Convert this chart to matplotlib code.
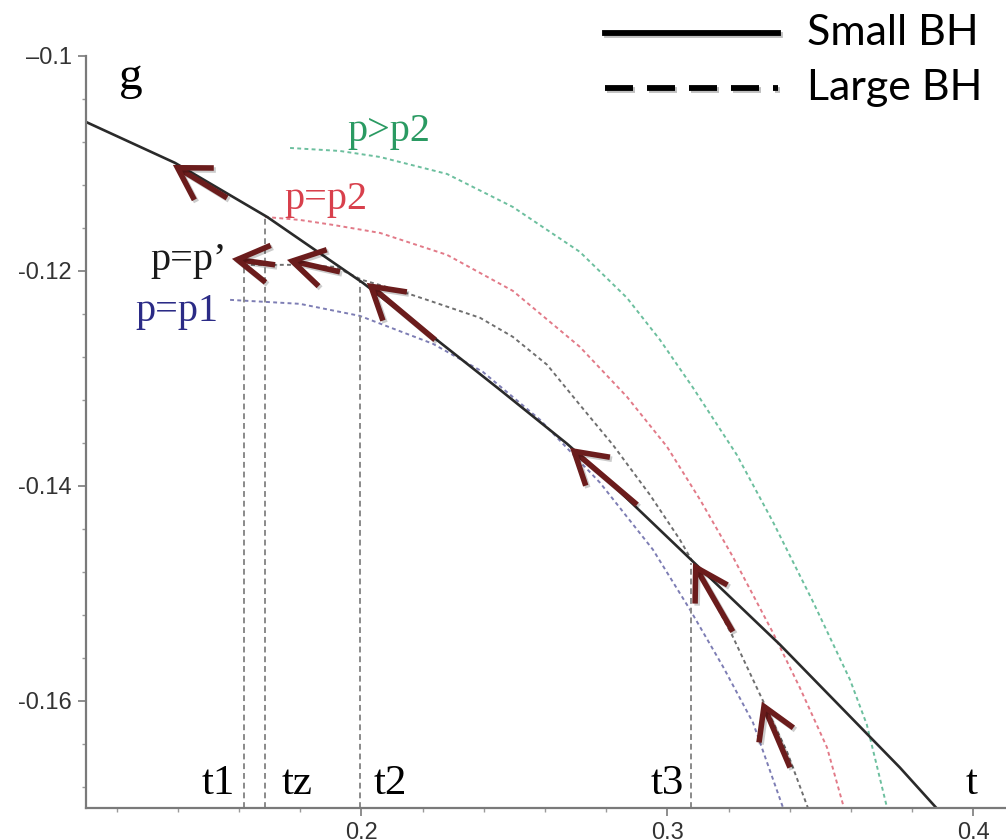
import matplotlib
matplotlib.use("Agg")
import matplotlib.pyplot as plt
import matplotlib.patheffects as pe
from matplotlib.lines import Line2D
from matplotlib.ticker import MultipleLocator

# =========================
# data
# =========================
small_t = [0.1100, 0.1391, 0.1692, 0.2005, 0.2234, 0.2453, 0.2672, 0.2780, 0.3074, 0.3368, 0.3760, 0.3878]
small_g = [-0.10614, -0.10995, -0.11498, -0.12112, -0.12614, -0.13107, -0.13609, -0.13879, -0.14679, -0.15479, -0.16623, -0.16995]

green_t = [0.1767, 0.1930, 0.2061, 0.2280, 0.2495, 0.2714, 0.2868, 0.2976, 0.3084, 0.3227, 0.3345, 0.3476, 0.3597, 0.3652, 0.3718]
green_g = [-0.10856, -0.10884, -0.10940, -0.11098, -0.11405, -0.11823, -0.12251, -0.12642, -0.13088, -0.13712, -0.14335, -0.15079, -0.15805, -0.16223, -0.16995]

red_t = [0.1685, 0.1799, 0.1907, 0.2061, 0.2280, 0.2495, 0.2714, 0.2868, 0.2999, 0.3107, 0.3214, 0.3345, 0.3433, 0.3522, 0.3577]
red_g = [-0.11498, -0.11526, -0.11572, -0.11647, -0.11851, -0.12186, -0.12707, -0.13172, -0.13637, -0.14130, -0.14660, -0.15367, -0.15879, -0.16437, -0.16995]

gray_t = [0.1616, 0.1799, 0.1914, 0.2002, 0.2116, 0.2224, 0.2388, 0.2495, 0.2607, 0.2714, 0.2822, 0.2943, 0.3041, 0.3107, 0.3214, 0.3303, 0.3391, 0.3459]
gray_g = [-0.11944, -0.11944, -0.11963, -0.12084, -0.12177, -0.12279, -0.12437, -0.12614, -0.12874, -0.13247, -0.13619, -0.14084, -0.14502, -0.14828, -0.15405, -0.15944, -0.16474, -0.16995]

blue_t = [0.1571, 0.1799, 0.1995, 0.2234, 0.2397, 0.2584, 0.2780, 0.2953, 0.3074, 0.3182, 0.3280, 0.3378]
blue_g = [-0.12270, -0.12307, -0.12419, -0.12679, -0.12940, -0.13386, -0.13972, -0.14595, -0.15153, -0.15684, -0.16205, -0.16995]

# vertical markers t1, tz, t2, t3
mark_names = ["t1", "tz", "t2", "t3"]
mark_t = [0.1618, 0.1685, 0.1997, 0.3076]
mark_top = [-0.11944, -0.11498, -0.12090, -0.14716]
mark_label_t = [0.1479, 0.1741, 0.2041, 0.2946]

# arrows (tail -> head)
arrow_tail_t = [0.1561, 0.1718, 0.1930, 0.2241, 0.2901, 0.3214, 0.3401]
arrow_tail_g = [-0.11321, -0.11944, -0.12009, -0.12642, -0.14177, -0.15358, -0.16623]
arrow_head_t = [0.1384, 0.1577, 0.1757, 0.2018, 0.2682, 0.3084, 0.3309]
arrow_head_g = [-0.11014, -0.11888, -0.11898, -0.12112, -0.13647, -0.14716, -0.16009]

y_ticks = [-0.1, -0.12, -0.14, -0.16]
y_tick_labels = ["\u20130.1", "-0.12", "-0.14", "-0.16"]
x_ticks = [0.2, 0.3, 0.4]
x_tick_labels = ["0.2", "0.3", "0.4"]

# =========================
# figure
# =========================
W, H = 1006, 840
fig = plt.figure(figsize=(W / 100, H / 100), dpi=100)
ax = fig.add_axes([86 / W, 32 / H, 1 - 86 / W, (808 - 56) / H])
ax.set_xlim(0.11, 0.4107)
ax.set_ylim(-0.17, -0.1)

SERIF = "Liberation Serif"
DOT = (0, (2.0, 1.7))

ax.plot(green_t, green_g, color="#6cbf9e", lw=1.4, linestyle=DOT)
ax.plot(red_t, red_g, color="#e27a88", lw=1.4, linestyle=DOT)
ax.plot(gray_t, gray_g, color="#6f6f6f", lw=1.4, linestyle=DOT)
ax.plot(blue_t, blue_g, color="#7d7db4", lw=1.4, linestyle=DOT)

for t, top in zip(mark_t, mark_top):
    ax.plot([t, t], [-0.17, top], color="#8a8a8a", lw=1.4, linestyle=(0, (3, 2)))

ax.plot(small_t, small_g, color="#2a2a2a", lw=1.9, solid_joinstyle="round")

for tt, tg, ht, hg in zip(arrow_tail_t, arrow_tail_g, arrow_head_t, arrow_head_g):
    ax.annotate(
        "", xy=(ht, hg), xytext=(tt, tg),
        arrowprops=dict(
            arrowstyle="->,head_length=0.8,head_width=0.48",
            color="#6b1c1c", lw=4, mutation_scale=28,
            shrinkA=0, shrinkB=0, capstyle="butt", joinstyle="miter",
            path_effects=[pe.SimpleLineShadow(offset=(1.5, -1.5), alpha=0.2), pe.Normal()],
        ),
    )

# labels
ax.text(0.1247, -0.10307, "g", fontsize=34, family=SERIF, ha="center", va="baseline")
ax.text(0.1953, -0.1079, "p>p2", fontsize=29, family=SERIF, color="#2a9a62", va="baseline")
ax.text(0.1750, -0.11423, "p=p2", fontsize=29, family=SERIF, color="#d8404c", va="baseline")
ax.text(0.1309, -0.11991, "p=p\u2019", fontsize=29, family=SERIF, color="#1a1a1a", va="baseline")
ax.text(0.1260, -0.12465, "p=p1", fontsize=29, family=SERIF, color="#2b2b86", va="baseline")
for name, lt in zip(mark_names, mark_label_t):
    ax.text(lt, -0.16874, name, fontsize=31, family=SERIF, va="baseline")
ax.text(0.3976, -0.16874, "t", fontsize=31, family=SERIF, va="baseline")

# axes style
for s in ["top", "right"]:
    ax.spines[s].set_visible(False)
for s in ["left", "bottom"]:
    ax.spines[s].set_color("#7a7a7a")
    ax.spines[s].set_linewidth(1.6)

ax.set_yticks(y_ticks, labels=y_tick_labels)
ax.set_xticks(x_ticks, labels=x_tick_labels)
ax.yaxis.set_minor_locator(MultipleLocator(0.004))
ax.xaxis.set_minor_locator(MultipleLocator(0.02))
ax.tick_params(which="major", length=6, width=1.2, color="#7a7a7a", labelsize=17, pad=4)
ax.tick_params(which="minor", length=3, width=1.0, color="#9a9a9a")
for lab in ax.get_xticklabels() + ax.get_yticklabels():
    lab.set_family("Liberation Sans")
    lab.set_color("#333333")

# legend drawn by hand at the top right
shadow = [pe.SimpleLineShadow(offset=(1.5, -1.5), alpha=0.25), pe.Normal()]
fig.add_artist(Line2D([605 / W, 778 / W], [1 - 33 / H, 1 - 33 / H], color="black", lw=4.2,
                      path_effects=shadow))
fig.add_artist(Line2D([605 / W, 778 / W], [1 - 88 / H, 1 - 88 / H], color="black", lw=4.2,
                      linestyle=(0, (4.8, 2.4)), path_effects=shadow))
fig.text(807 / W, 1 - 33 / H, "Small BH", fontsize=31, family="Lato", va="center")
fig.text(807 / W, 1 - 88 / H, "Large BH", fontsize=31, family="Lato", va="center")

fig.savefig("out.png", dpi=100)
